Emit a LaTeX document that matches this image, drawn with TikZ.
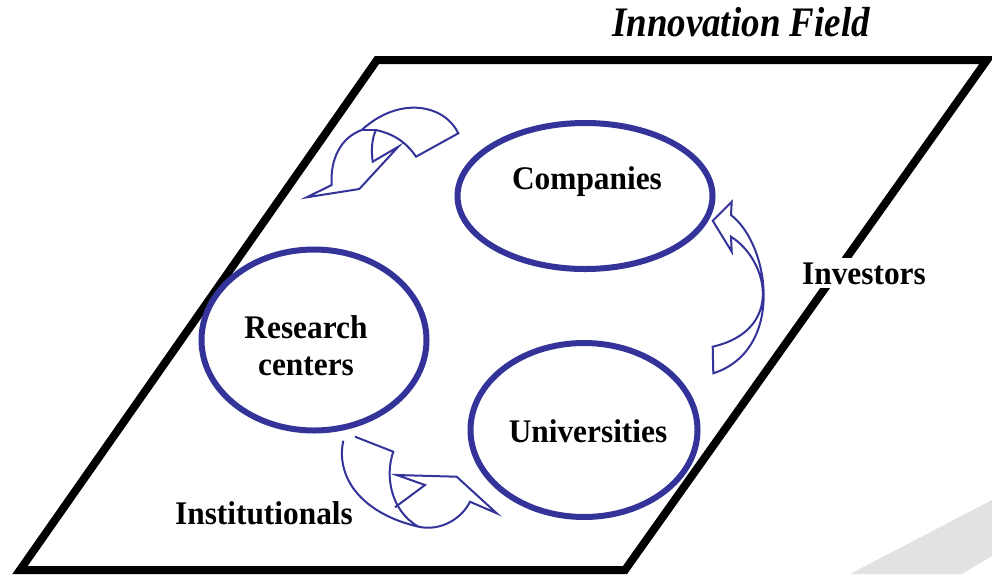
\documentclass[tikz,border=0pt]{standalone}
\usepackage{fontspec}
\setmainfont{Liberation Serif}
\usetikzlibrary{shapes.geometric}
\definecolor{navy}{RGB}{51,51,153}
\definecolor{wm}{RGB}{226,226,229}
\newcommand{\narrowtxt}[1]{\scalebox{0.95}[1]{#1}}
\begin{document}
\begin{tikzpicture}[x=1pt,y=-1pt,
  ell/.style={draw=navy, line width=6pt, ellipse, fill=white, inner sep=0pt},
  lbl/.style={font=\fontsize{33}{37}\selectfont\bfseries, inner sep=0pt, anchor=base},
  barrow/.style={draw=navy, line width=2pt, line join=miter}]
\useasboundingbox (0,0) rectangle (992,574);
% watermark stripe
\fill[wm] (850,574) -- (992,500) -- (992,556) -- (962,574) -- cycle;
% innovation field
\coordinate (p1) at (377,60);
\coordinate (p2) at (987,60);
\coordinate (p3) at (625,570);
\coordinate (p4) at (20,570);
\draw[line width=8pt, line join=miter] (p1) -- (p2) -- (p3) -- (p4) -- cycle;
\node[font=\fontsize{42}{48}\selectfont\bfseries\itshape, inner sep=0pt, anchor=base] (title) at (741,36) {\scalebox{0.88}[1]{Innovation Field}};
% arrow between research centers and companies
\draw[barrow, fill=white] (458.3,133.3) .. controls (445,105) and (400,95) .. (361.7,130)
  .. controls (340,138) and (330,160) .. (331.7,185) -- (306.7,197.3) -- (359.3,189)
  -- (398.3,146.7) -- (372.7,161.7) .. controls (371,150) and (372,138) .. (376,130)
  .. controls (390,133) and (405,140) .. (416,156.7) -- cycle;
\draw[barrow] (376,130) -- (361.7,130);
% arrow investors
\draw[barrow, fill=white] (712.7,220.7) -- (731.7,201.7) -- (731,215)
  .. controls (770,245) and (785,350) .. (713.3,373.3) -- (712.7,346.7)
  .. controls (785,330) and (768,260) .. (731,236.7) -- (731.7,251.7) -- cycle;
% arrow institutionals
\draw[barrow] (355,436.7) -- (393.3,451.7) .. controls (385,475) and (390,510) .. (418,526.5);
\draw[barrow] (343.3,440.7) .. controls (335,480) and (365,515) .. (420,527)
  .. controls (442,531) and (462,518) .. (470,501.7) -- (496.7,513.3) -- (456.7,476.7)
  -- (396.7,475) -- (425,485) -- (395,507.3);
% ellipses
\node[ell, minimum width=255, minimum height=146] (comp) at (585,196) {};
\node[ell, minimum width=225, minimum height=181] (res) at (314,340) {};
\node[ell, minimum width=227, minimum height=174] (uni) at (584,430) {};
% labels
\node[lbl] (tcomp) at (587,189) {\narrowtxt{Companies}};
\node[lbl] (tres1) at (306,338) {\narrowtxt{Research}};
\node[lbl] (tres2) at (306,375) {\narrowtxt{centers}};
\node[lbl] (tuni) at (588,442) {\narrowtxt{Universities}};
\node[lbl, fill=white, inner sep=4pt] (tinv) at (864,284) {\narrowtxt{Investors}};
\node[lbl] (tinst) at (264,524) {\narrowtxt{Institutionals}};
\end{tikzpicture}
\end{document}
